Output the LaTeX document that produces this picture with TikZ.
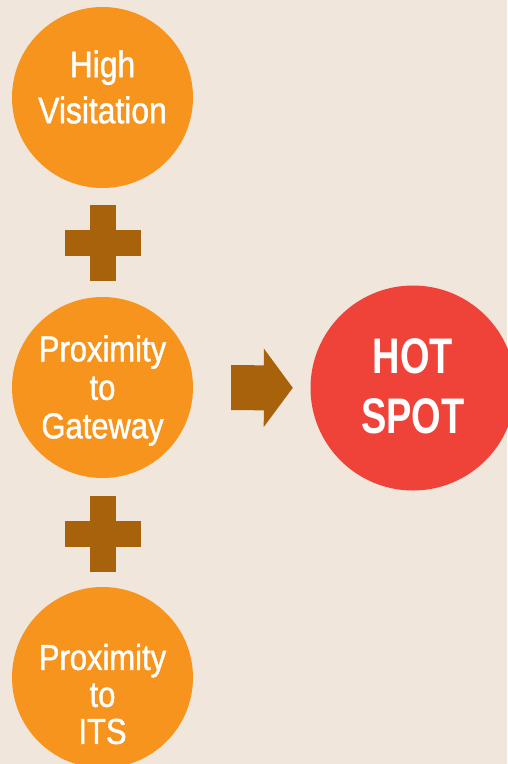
\documentclass[tikz,border=0pt]{standalone}
\usepackage{fontspec}
\usepackage{tikz}
\usetikzlibrary{positioning,calc,arrows.meta}

\newfontfamily\condfont[FakeStretch=0.86,FakeBold=1.2]{Liberation Sans}
\newfontfamily\condbold[FakeStretch=0.76]{Liberation Sans Bold}

\definecolor{paper}{RGB}{240,230,220}
\definecolor{factor}{RGB}{247,148,30}
\definecolor{hotred}{RGB}{239,67,58}
\definecolor{rust}{RGB}{168,98,12}

\begin{document}
\begin{tikzpicture}[x=1pt,y=-1pt]
%\draw[gray,very thin] (0,0) grid[step=50] (507,764);
\tikzstyle{factorball} = [circle, fill=factor, minimum size=181pt, inner sep=0pt]
\tikzstyle{hotball} = [circle, fill=hotred, minimum size=205pt, inner sep=0pt]
\tikzstyle{balltext} = [text=white, align=center, inner sep=0pt]
\tikzstyle{bigarrow} = [rust, line width=45pt, -{Triangle[length=29pt,width=77pt]}]
% page and background
\fill[paper] (0,0) rectangle (507,764);
\useasboundingbox (0,0) rectangle (507,764);
%Creating the circles
\node at (102.5,97.5) [factorball] (visit) {};
\node at (102.5,387.5) [factorball] (gate) {};
\node at (102.5,677.5) [factorball] (its) {};
\node at (413,388) [hotball] (hot) {};
%Texts inside
\node at (102.5,87) [balltext, font={\condfont\fontsize{37}{46}\selectfont}] (visit-txt) {High\\Visitation};
\node at (102.5,390.5) [balltext, font={\condfont\fontsize{36}{38.5}\selectfont}] (gate-txt) {Proximity\\to\\Gateway};
\node at (102.5,694) [balltext, font={\condfont\fontsize{36}{37}\selectfont}] (its-txt) {Proximity\\to\\ITS};
\node at (413,386) [balltext, font={\condbold\fontsize{50}{60}\selectfont}] (hot-txt) {HOT\\SPOT};
%Plus signs between the factors
\coordinate (plus1) at ($(visit)!0.5!(gate)$);
\coordinate (plus2) at ($(gate)!0.5!(its)+(0,1.5)$);
\foreach \p in {plus1,plus2} {
  \fill[rust] ([xshift=-38pt,yshift=-13pt]\p) rectangle ([xshift=38pt,yshift=13pt]\p);
  \fill[rust] ([xshift=-13pt,yshift=-38pt]\p) rectangle ([xshift=13pt,yshift=38pt]\p);
}
\draw[bigarrow, shorten <=38pt, shorten >=17.5pt] (gate) -- (hot);
\end{tikzpicture}
\end{document}
